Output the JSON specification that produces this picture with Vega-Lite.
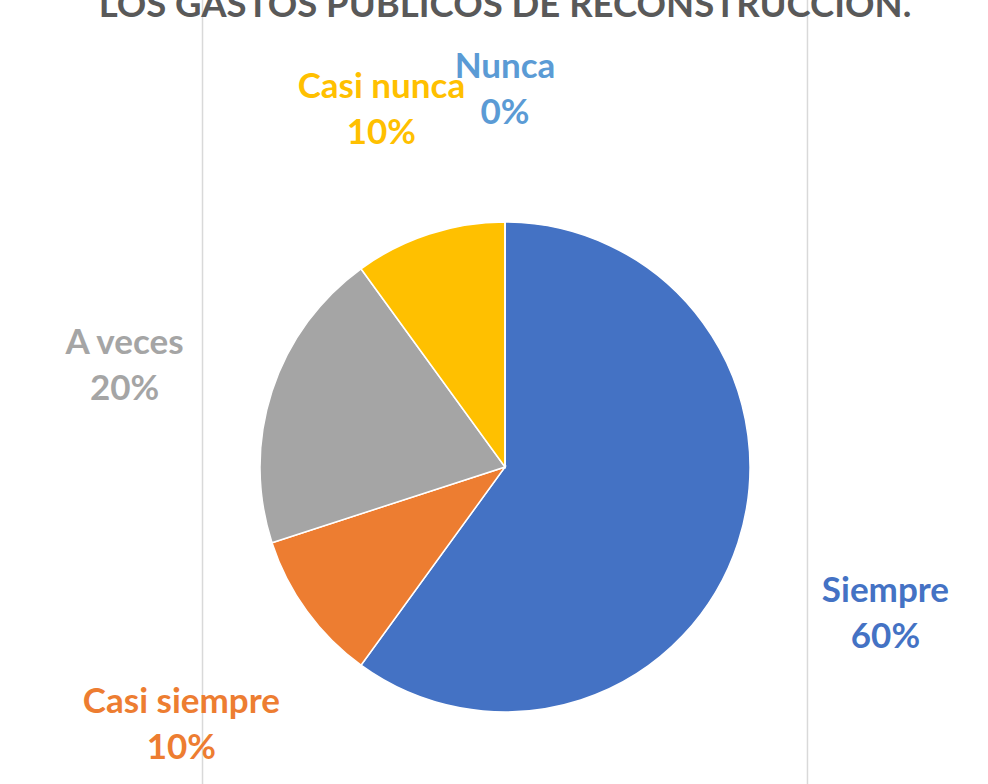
{
  "$schema": "https://vega.github.io/schema/vega-lite/v6.json",
  "width": 966,
  "height": 784,
  "autosize": {"type": "none"},
  "padding": {"left": 22, "top": 0, "right": 0, "bottom": 0},
  "background": "white",
  "config": {"view": {"stroke": null}},
  "title": {
    "text": "LOS GASTOS PÚBLICOS DE RECONSTRUCCIÓN.",
    "font": "Lato",
    "fontSize": 36.5,
    "fontWeight": "bold",
    "color": "#595959",
    "anchor": "middle",
    "frame": "group",
    "offset": -54,
    "baseline": "alphabetic"
  },
  "data": {
    "values": [
      {"respuesta": "Siempre", "porcentaje": 0.6, "orden": 1},
      {"respuesta": "Casi siempre", "porcentaje": 0.1, "orden": 2},
      {"respuesta": "A veces", "porcentaje": 0.2, "orden": 3},
      {"respuesta": "Casi nunca", "porcentaje": 0.1, "orden": 4},
      {"respuesta": "Nunca", "porcentaje": 0.0, "orden": 5}
    ]
  },
  "layer": [
    {
      "data": {"values": [{"borde": "izquierdo"}, {"borde": "derecho"}]},
      "mark": {"type": "rule", "color": "#D9D9D9", "strokeWidth": 1.5},
      "encoding": {
        "x": {
          "field": "borde",
          "type": "nominal",
          "sort": ["izquierdo", "derecho"],
          "scale": {"type": "point", "padding": 0.2984},
          "axis": null
        }
      }
    },
    {
      "mark": {"type": "arc", "radius": 245, "yOffset": 75, "stroke": "white", "strokeWidth": 1.5},
      "encoding": {
        "theta": {"field": "porcentaje", "type": "quantitative", "stack": true},
        "order": {"field": "orden", "type": "quantitative"},
        "color": {
          "field": "respuesta",
          "type": "nominal",
          "scale": {
            "domain": ["Siempre", "Casi siempre", "A veces", "Casi nunca", "Nunca"],
            "range": ["#4472C4", "#ED7D31", "#A5A5A5", "#FFC000", "#5B9BD5"]
          },
          "legend": null
        }
      }
    },
    {
      "transform": [
        {"calculate": "[datum.respuesta, format(datum.porcentaje, '.0%')]", "as": "etiqueta"}
      ],
      "mark": {
        "type": "text",
        "radius": 400,
        "yOffset": 75,
        "font": "Lato",
        "fontSize": 35,
        "fontWeight": "bold",
        "lineHeight": 46,
        "align": "center",
        "baseline": "middle"
      },
      "encoding": {
        "theta": {"field": "porcentaje", "type": "quantitative", "stack": true},
        "order": {"field": "orden", "type": "quantitative"},
        "text": {"field": "etiqueta"},
        "color": {
          "field": "respuesta",
          "type": "nominal",
          "scale": {
            "domain": ["Siempre", "Casi siempre", "A veces", "Casi nunca", "Nunca"],
            "range": ["#4472C4", "#ED7D31", "#A5A5A5", "#FFC000", "#5B9BD5"]
          },
          "legend": null
        }
      }
    }
  ]
}
